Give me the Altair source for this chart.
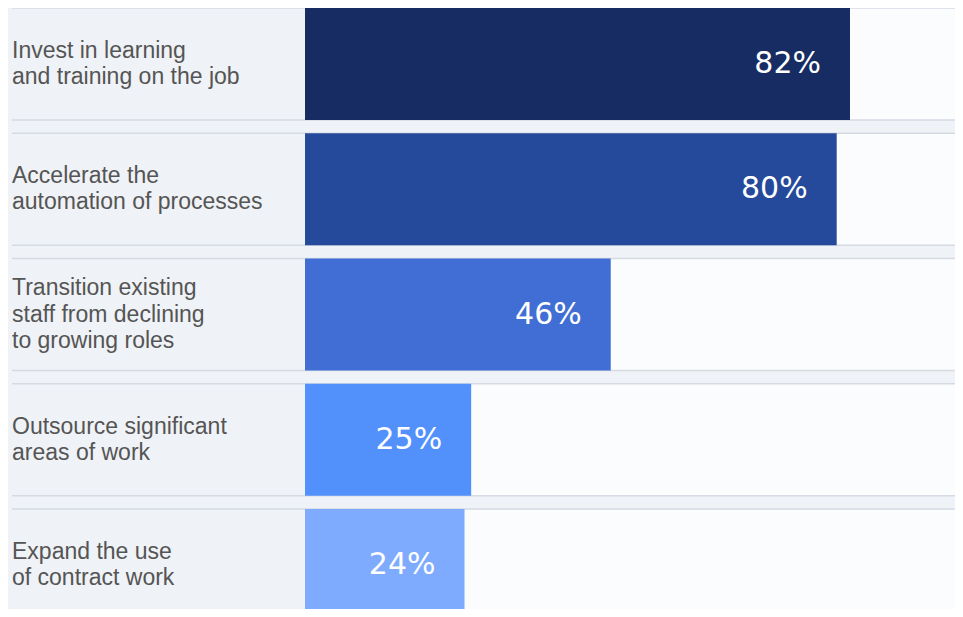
import altair as alt
import pandas as pd

categories = [
    "Invest in learning\nand training on the job",
    "Accelerate the\nautomation of processes",
    "Transition existing\nstaff from declining\nto growing roles",
    "Outsource significant\nareas of work",
    "Expand the use\nof contract work",
]
values = [82, 80, 46, 25, 24]
value_labels = ["82%", "80%", "46%", "25%", "24%"]
bar_colors = ["#162c62", "#264a9b", "#416ed4", "#5291fc", "#7eabfd"]

LH = 26.5
RANGE = 613
PAD_INNER = 0.1058
STEP = RANGE / (len(categories) - PAD_INNER)
BANDWIDTH = STEP * (1 - PAD_INNER)

df = pd.DataFrame({
    "cat": categories,
    "value": values,
    "label": value_labels,
    "color": bar_colors,
})

W, H = 947, 601
x_scale = alt.Scale(domain=[-44.69, 97.80], nice=False, zero=False)
y_scale = alt.Scale(domain=categories, range=[0, RANGE], paddingInner=PAD_INNER, paddingOuter=0)

x_enc = alt.X("value:Q", scale=x_scale, axis=None)
y_enc = alt.Y("cat:N", scale=y_scale, axis=None, sort=categories)

base = alt.Chart(df)

bands = base.mark_rect(color="#fbfcfd").encode(
    x=alt.datum(0, scale=x_scale, axis=None),
    x2=alt.value(W),
    y=y_enc,
)

top_lines = base.mark_rule(color="#d5dae3", strokeWidth=1.5).encode(
    x=alt.value(4),
    x2=alt.value(W),
    y=alt.Y("cat:N", scale=y_scale, axis=None, sort=categories, bandPosition=0),
)
bottom_lines = base.mark_rule(color="#d5dae3", strokeWidth=1.5).encode(
    x=alt.value(4),
    x2=alt.value(W),
    y=alt.Y("cat:N", scale=y_scale, axis=None, sort=categories, bandPosition=1),
)

bars = base.mark_bar().encode(
    x=alt.X("value:Q", scale=x_scale, axis=None),
    x2=alt.datum(0),
    y=y_enc,
    color=alt.Color("color:N", scale=None, legend=None),
)

value_text = base.mark_text(
    align="right", baseline="middle", dx=-29, dy=0, fontSize=30,
    font="DejaVu Sans", color="white",
).encode(
    x=x_enc,
    y=y_enc,
    text="label:N",
)

cat_text = base.transform_calculate(
    off=f"{BANDWIDTH / 2} - (length(split(datum.cat, '\\n')) - 1) * {LH} / 2"
).mark_text(
    align="left", baseline="middle", fontSize=23, lineHeight=LH,
    lineBreak="\n", font="Liberation Sans", color="#555555",
).encode(
    x=alt.value(4),
    y=y_enc,
    yOffset=alt.YOffset("off:Q", scale=None),
    text="cat:N",
)

chart = alt.layer(bands, top_lines, bottom_lines, bars, value_text, cat_text).properties(
    width=W, height=H,
    autosize=alt.AutoSizeParams(type="none"),
    padding=0,
    background="#eff2f6",
).configure_view(stroke=None)

chart.save("out.html", embed_options={"renderer": "svg", "actions": False})
